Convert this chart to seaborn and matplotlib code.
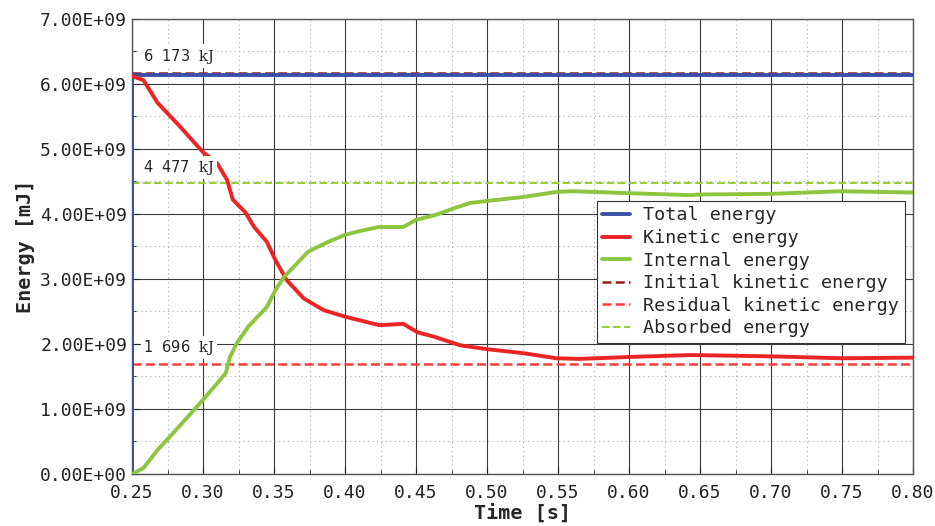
import numpy as np
import pandas as pd
import matplotlib
matplotlib.use("Agg")
import matplotlib.pyplot as plt
import matplotlib.ticker as ticker
import seaborn as sns

# time [s] and energy [1e9 mJ]
t_total = [0.25, 0.25, 0.80]
e_total = [0.0, 6.14, 6.14]

t_kin = [0.250, 0.258, 0.268, 0.284, 0.300, 0.310, 0.317, 0.321, 0.330, 0.336,
         0.345, 0.351, 0.359, 0.371, 0.385, 0.400, 0.424, 0.441, 0.451, 0.463,
         0.481, 0.500, 0.525, 0.549, 0.565, 0.600, 0.643, 0.700, 0.750, 0.800]
e_kin = [6.12, 6.06, 5.71, 5.34, 4.95, 4.78, 4.52, 4.22, 4.02, 3.80,
         3.57, 3.29, 2.98, 2.70, 2.52, 2.42, 2.29, 2.31, 2.18, 2.11,
         1.98, 1.92, 1.86, 1.78, 1.77, 1.80, 1.83, 1.81, 1.78, 1.79]

t_int = [0.250, 0.258, 0.268, 0.279, 0.300, 0.316, 0.319, 0.324, 0.332, 0.345,
         0.351, 0.357, 0.364, 0.374, 0.388, 0.400, 0.411, 0.424, 0.441, 0.450,
         0.463, 0.477, 0.488, 0.500, 0.525, 0.549, 0.561, 0.600, 0.643, 0.650,
         0.700, 0.749, 0.800]
e_int = [0.00, 0.09, 0.37, 0.63, 1.14, 1.55, 1.80, 2.02, 2.27, 2.57,
         2.83, 3.03, 3.19, 3.42, 3.57, 3.68, 3.74, 3.80, 3.80, 3.91,
         3.98, 4.09, 4.17, 4.20, 4.26, 4.34, 4.35, 4.32, 4.29, 4.30,
         4.31, 4.35, 4.33]

# reference levels in kJ
initial_kj = 6173
residual_kj = 1696
absorbed_kj = 4477

sns.set_style("white")
plt.rcParams['font.family'] = ['DejaVu Sans Mono', 'DejaVu Sans']
plt.rcParams['mathtext.fontset'] = 'dejavuserif'

fig = plt.figure(figsize=(9.35, 5.26), dpi=100)
ax = fig.add_axes([0.1412, 0.0989, 0.8353, 0.865])

df_tot = pd.DataFrame({'t': t_total, 'E': np.array(e_total) * 1e9})
df_kin = pd.DataFrame({'t': t_kin, 'E': np.array(e_kin) * 1e9})
df_int = pd.DataFrame({'t': t_int, 'E': np.array(e_int) * 1e9})

sns.lineplot(data=df_tot, x='t', y='E', ax=ax, color='#3a4fa6', lw=2.8,
             estimator=None, sort=False, label='Total energy', zorder=4)
sns.lineplot(data=df_kin, x='t', y='E', ax=ax, color='#ee2424', lw=2.8,
             estimator=None, sort=False, label='Kinetic energy', zorder=5)
sns.lineplot(data=df_int, x='t', y='E', ax=ax, color='#8cc63f', lw=2.8,
             estimator=None, sort=False, label='Internal energy', zorder=5)

dash = (0, (3.6, 1.7))
ax.axhline(initial_kj * 1e6, color='#9b1c1c', ls=dash, lw=1.8,
           label='Initial kinetic energy', zorder=3)
ax.axhline(residual_kj * 1e6, color='#ff3b3b', ls=dash, lw=1.8,
           label='Residual kinetic energy', zorder=3)
ax.axhline(absorbed_kj * 1e6, color='#9acd32', ls=dash, lw=1.5,
           label='Absorbed energy', zorder=3)

# value labels with white background
for val, ypos in [(initial_kj, 6.43e9), (absorbed_kj, 4.72e9), (residual_kj, 1.95e9)]:
    s = f'{val:,}'.replace(',', '  ') + r'  $\mathrm{kJ}$'
    ax.text(0.2578, ypos, s, family='DejaVu Sans', fontsize=10.5, va='center',
            ha='left', zorder=6,
            bbox={'facecolor': 'white', 'edgecolor': 'none', 'pad': 1.5})

ax.set_xlim(0.25, 0.80)
ax.set_ylim(0, 7e9)
ax.xaxis.set_major_locator(ticker.MultipleLocator(0.05))
ax.xaxis.set_minor_locator(ticker.MultipleLocator(0.025))
ax.yaxis.set_major_locator(ticker.MultipleLocator(1e9))
ax.yaxis.set_minor_locator(ticker.MultipleLocator(0.5e9))
ax.xaxis.set_major_formatter(ticker.FormatStrFormatter('%.2f'))
ax.yaxis.set_major_formatter(ticker.FuncFormatter(lambda v, p: f'{v:.2E}'))

ax.grid(which='major', color='#3a3a3a', lw=0.8, ls='-')
ax.grid(which='minor', color='#aaaaaa', lw=0.8, ls=(0, (1, 3)))
ax.set_axisbelow(True)
ax.tick_params(which='both', direction='in', labelsize=13, colors='#222222',
               bottom=True, left=True)
ax.tick_params(axis='x', which='major', pad=7)
ax.tick_params(which='major', length=5)
ax.tick_params(which='minor', length=3)
for sp in ax.spines.values():
    sp.set_color('#555555')
    sp.set_linewidth(1.0)

ax.set_xlabel('Time [s]', fontsize=14.5, fontweight='bold', labelpad=1)
ax.set_ylabel('Energy [mJ]', fontsize=14.5, fontweight='bold', labelpad=4)

leg = ax.legend(loc='upper left', bbox_to_anchor=(0.595, 0.60), fontsize=13.2,
                handlelength=1.5, handletextpad=0.75, labelspacing=0.25,
                borderpad=0.3, borderaxespad=0, fancybox=False, framealpha=1)
leg.get_frame().set_edgecolor('#333333')
leg.get_frame().set_linewidth(0.8)

plt.savefig('out.png', dpi=100)
plt.close()
